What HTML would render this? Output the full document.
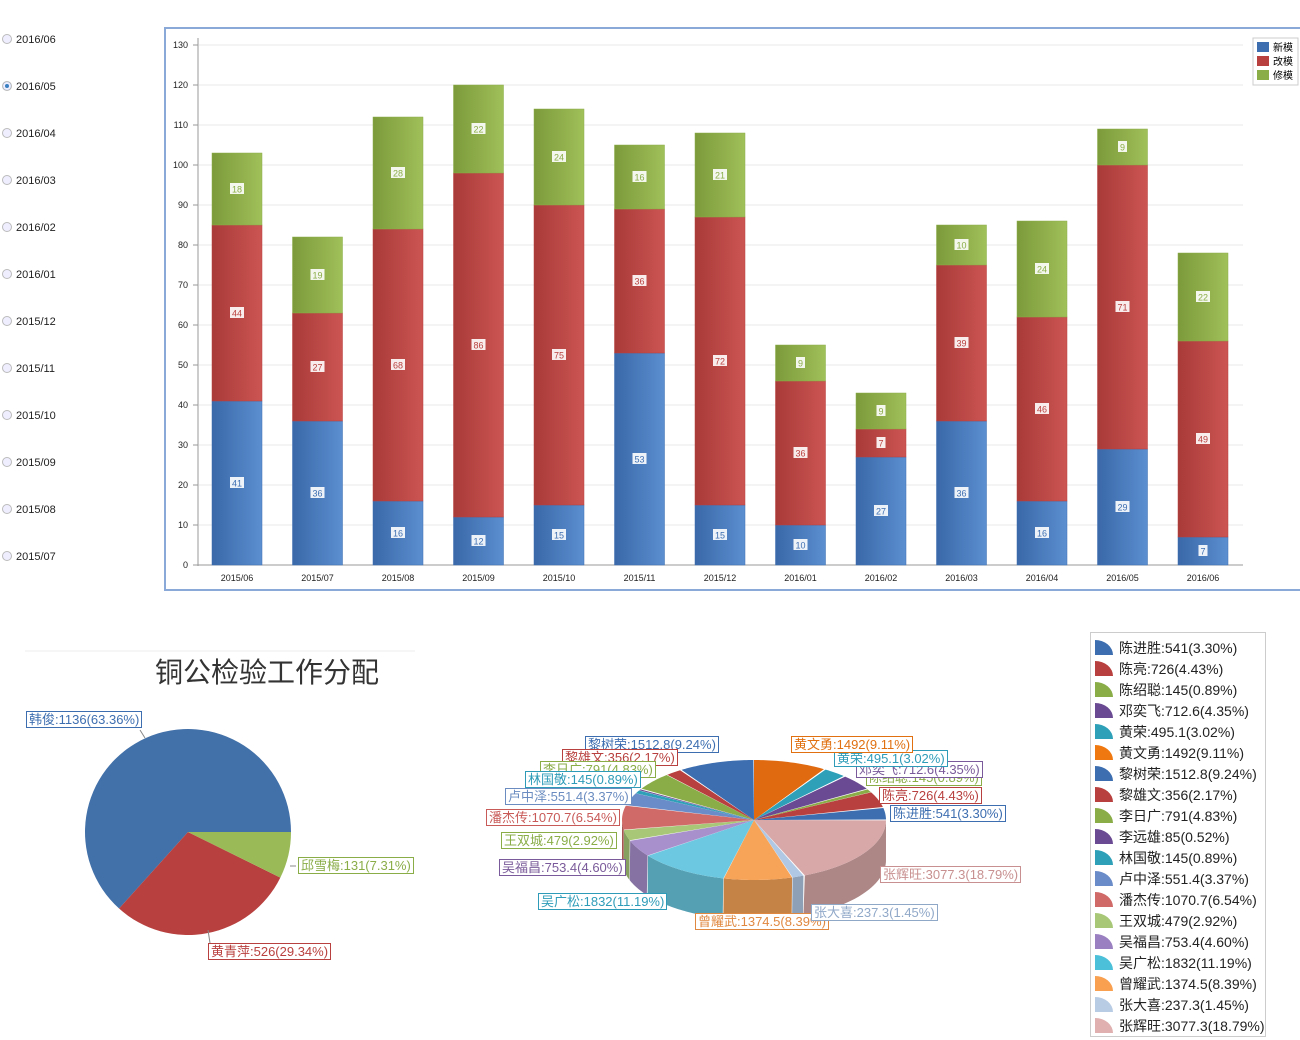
<!DOCTYPE html>
<html><head><meta charset="utf-8"><style>
body{margin:0;width:1300px;height:1040px;background:#fff;position:relative;overflow:hidden;font-family:"Liberation Sans","Noto Sans CJK SC",sans-serif}
.r{position:absolute;left:2px;font-size:11px;color:#222}
.r i{display:inline-block;width:8px;height:8px;border:1px solid #bbb;border-radius:50%;margin-right:4px;vertical-align:-1px;background:#eef}
.lb{position:absolute;font-size:13px;border:1px solid;background:#fff;padding:0 2px;line-height:15px;white-space:nowrap}
.lg{position:absolute;left:1090px;top:632px;width:174px;height:403px;border:1px solid #ccc}
.lg div{position:absolute;left:4px;font-size:14px;color:#222;white-space:nowrap}
.lg b{display:inline-block;width:18px;height:15px;border-top-right-radius:18px 15px;margin-right:6px;vertical-align:-2px}
</style></head><body>
<div class="r" style="top:34px"><i></i>2016/06</div>
<div class="r" style="top:81px"><i style="background:#3a7fc0;box-shadow:inset 0 0 0 2px #eef"></i>2016/05</div>
<div class="r" style="top:128px"><i></i>2016/04</div>
<div class="r" style="top:175px"><i></i>2016/03</div>
<div class="r" style="top:222px"><i></i>2016/02</div>
<div class="r" style="top:269px"><i></i>2016/01</div>
<div class="r" style="top:316px"><i></i>2015/12</div>
<div class="r" style="top:363px"><i></i>2015/11</div>
<div class="r" style="top:410px"><i></i>2015/10</div>
<div class="r" style="top:457px"><i></i>2015/09</div>
<div class="r" style="top:504px"><i></i>2015/08</div>
<div class="r" style="top:551px"><i></i>2015/07</div>
<svg id="s" width="1300" height="1040" style="position:absolute;left:0;top:0" font-family="Liberation Sans, Noto Sans CJK SC, sans-serif">
<defs>
<linearGradient id="gb"><stop offset="0" stop-color="#3a68a8"/><stop offset="1" stop-color="#5b8fd0"/></linearGradient>
<linearGradient id="gr"><stop offset="0" stop-color="#a83a38"/><stop offset="1" stop-color="#cc5552"/></linearGradient>
<linearGradient id="gg"><stop offset="0" stop-color="#7c9a3a"/><stop offset="1" stop-color="#a0c05a"/></linearGradient>
</defs>
<rect x="165" y="28" width="1140" height="562" fill="none" stroke="#8aa8d8" stroke-width="2"/>
<g id="bars"></g>
<line x1="25" y1="651" x2="415" y2="651" stroke="#eee"/>
<text x="267" y="682" font-size="28" text-anchor="middle" fill="#333">铜公检验工作分配</text>
<g id="p1"></g><g id="p2"></g>
<rect x="1253" y="38" width="45" height="47" fill="#fff" stroke="#ccc"/>
<rect x="1257" y="42" width="12" height="10" fill="#3d6eb0"/><text x="1273" y="51" font-size="10">新模</text>
<rect x="1257" y="56" width="12" height="10" fill="#b8403e"/><text x="1273" y="65" font-size="10">改模</text>
<rect x="1257" y="70" width="12" height="10" fill="#8aad48"/><text x="1273" y="79" font-size="10">修模</text>
</svg>
<div class="lb" style="left:26px;top:711px;color:#3d6eb0;border-color:#3d6eb0">韩俊:1136(63.36%)</div>
<div class="lb" style="left:298px;top:857px;color:#8aad48;border-color:#8aad48">邱雪梅:131(7.31%)</div>
<div class="lb" style="left:208px;top:943px;color:#b8403e;border-color:#b8403e">黄青萍:526(29.34%)</div>
<div class="lb" style="left:585px;top:736px;color:#3d6eb0;border-color:#3d6eb0">黎树荣:1512.8(9.24%)</div>
<div class="lb" style="left:562px;top:749px;color:#b8403e;border-color:#b8403e">黎雄文:356(2.17%)</div>
<div class="lb" style="left:540px;top:761px;color:#8aad48;border-color:#8aad48">李日广:791(4.83%)</div>
<div class="lb" style="left:525px;top:771px;color:#2e9cb8;border-color:#2e9cb8">林国敬:145(0.89%)</div>
<div class="lb" style="left:505px;top:788px;color:#6a8cc0;border-color:#6a8cc0">卢中泽:551.4(3.37%)</div>
<div class="lb" style="left:486px;top:809px;color:#c85a58;border-color:#c85a58">潘杰传:1070.7(6.54%)</div>
<div class="lb" style="left:501px;top:832px;color:#8aad48;border-color:#8aad48">王双城:479(2.92%)</div>
<div class="lb" style="left:499px;top:859px;color:#7a5a9a;border-color:#7a5a9a">吴福昌:753.4(4.60%)</div>
<div class="lb" style="left:538px;top:893px;color:#2e9cb8;border-color:#2e9cb8">吴广松:1832(11.19%)</div>
<div class="lb" style="left:695px;top:913px;color:#e08840;border-color:#e08840">曾耀武:1374.5(8.39%)</div>
<div class="lb" style="left:811px;top:904px;color:#90a8c8;border-color:#90a8c8">张大喜:237.3(1.45%)</div>
<div class="lb" style="left:880px;top:866px;color:#c89090;border-color:#c89090">张辉旺:3077.3(18.79%)</div>
<div class="lb" style="left:890px;top:805px;color:#3d6eb0;border-color:#3d6eb0">陈进胜:541(3.30%)</div>
<div class="lb" style="left:879px;top:787px;color:#b8403e;border-color:#b8403e">陈亮:726(4.43%)</div>
<div class="lb" style="left:866px;top:769px;color:#8aad48;border-color:#8aad48">陈绍聪:145(0.89%)</div>
<div class="lb" style="left:856px;top:761px;color:#7a5a9a;border-color:#7a5a9a">邓奕飞:712.6(4.35%)</div>
<div class="lb" style="left:834px;top:750px;color:#2e9cb8;border-color:#2e9cb8">黄荣:495.1(3.02%)</div>
<div class="lb" style="left:791px;top:736px;color:#e07010;border-color:#e07010">黄文勇:1492(9.11%)</div>
<div class="lg">
<div style="top:5px"><b style="background:#3d6eb0"></b>陈进胜:541(3.30%)</div>
<div style="top:26px"><b style="background:#b8403e"></b>陈亮:726(4.43%)</div>
<div style="top:47px"><b style="background:#8aad48"></b>陈绍聪:145(0.89%)</div>
<div style="top:68px"><b style="background:#6a4a92"></b>邓奕飞:712.6(4.35%)</div>
<div style="top:89px"><b style="background:#2ea0b8"></b>黄荣:495.1(3.02%)</div>
<div style="top:110px"><b style="background:#f07810"></b>黄文勇:1492(9.11%)</div>
<div style="top:131px"><b style="background:#3d6eb0"></b>黎树荣:1512.8(9.24%)</div>
<div style="top:152px"><b style="background:#b8403e"></b>黎雄文:356(2.17%)</div>
<div style="top:173px"><b style="background:#8aad48"></b>李日广:791(4.83%)</div>
<div style="top:194px"><b style="background:#6a4a92"></b>李远雄:85(0.52%)</div>
<div style="top:215px"><b style="background:#2ea0b8"></b>林国敬:145(0.89%)</div>
<div style="top:236px"><b style="background:#6a8cc8"></b>卢中泽:551.4(3.37%)</div>
<div style="top:257px"><b style="background:#d06a68"></b>潘杰传:1070.7(6.54%)</div>
<div style="top:278px"><b style="background:#a8c878"></b>王双城:479(2.92%)</div>
<div style="top:299px"><b style="background:#9a80c0"></b>吴福昌:753.4(4.60%)</div>
<div style="top:320px"><b style="background:#4cc0d8"></b>吴广松:1832(11.19%)</div>
<div style="top:341px"><b style="background:#f8a050"></b>曾耀武:1374.5(8.39%)</div>
<div style="top:362px"><b style="background:#b8cce4"></b>张大喜:237.3(1.45%)</div>
<div style="top:383px"><b style="background:#e0b0b0"></b>张辉旺:3077.3(18.79%)</div>
</div>
<script>
var NS="http://www.w3.org/2000/svg";
function el(p,t,a,txt){var e=document.createElementNS(NS,t);for(var k in a)e.setAttribute(k,a[k]);if(txt!=null)e.textContent=txt;p.appendChild(e);return e;}
var g=document.getElementById('bars');
var Y=function(v){return 565-4*v;};
el(g,'line',{x1:198,y1:38,x2:198,y2:566,stroke:'#999'});
el(g,'line',{x1:198,y1:565,x2:1243,y2:565,stroke:'#999'});
for(var v=0;v<=130;v+=10){var y=Y(v);
 if(v>0)el(g,'line',{x1:199,y1:y,x2:1243,y2:y,stroke:'#e8e8e8'});
 el(g,'line',{x1:193,y1:y,x2:198,y2:y,stroke:'#999'});
 el(g,'text',{x:188,y:y+3,'font-size':9,'text-anchor':'end',fill:'#222'},String(v));}
var D=[[41,44,18],[36,27,19],[16,68,28],[12,86,22],[15,75,24],[53,36,16],[15,72,21],[10,36,9],[27,7,9],[36,39,10],[16,46,24],[29,71,9],[7,49,22]];
var L=['2015/06','2015/07','2015/08','2015/09','2015/10','2015/11','2015/12','2016/01','2016/02','2016/03','2016/04','2016/05','2016/06'];
var F=['url(#gb)','url(#gr)','url(#gg)'],C=['#3d6eb0','#b8403e','#8aad48'];
D.forEach(function(d,i){var cx=237+i*80.5,b=0;
 d.forEach(function(v,j){var y0=Y(b),y1=Y(b+v);
  el(g,'rect',{x:cx-25,y:y1,width:50,height:y0-y1,fill:F[j],stroke:C[j],'stroke-width':0.5});
  var ym=(y0+y1)/2,w=String(v).length*5+4;
  el(g,'rect',{x:cx-w/2,y:ym-6,width:w,height:11,fill:'#fff',opacity:0.9});
  el(g,'text',{x:cx,y:ym+3.5,'font-size':9,'text-anchor':'middle',fill:C[j]},String(v));
  b+=v;});
 el(g,'text',{x:cx,y:581,'font-size':9,'text-anchor':'middle',fill:'#222'},L[i]);});
var p1=document.getElementById('p1');
function arc(cx,cy,r,a0,a1){var r0=a0*Math.PI/180,r1=a1*Math.PI/180;
 return 'M'+cx+','+cy+'L'+(cx+r*Math.sin(r0))+','+(cy-r*Math.cos(r0))+'A'+r+','+r+' 0 '+((a1-a0)>180?1:0)+' 1 '+(cx+r*Math.sin(r1))+','+(cy-r*Math.cos(r1))+'Z';}
el(p1,'path',{d:arc(188,832,103,222,450),fill:'#4270a8'});
el(p1,'path',{d:arc(188,832,103,116.3,222),fill:'#b8403e'});
el(p1,'path',{d:arc(188,832,103,90,116.3),fill:'#9aba58'});
el(p1,'path',{d:'M140,730L145,738M290,866L296,866M208,930L210,943',stroke:'#888'});
var p2=document.getElementById('p2');
var S=[[9.11,'#e06a10'],[3.02,'#2ea0b8'],[4.35,'#6a4a92'],[0.89,'#8aad48'],[4.43,'#b8403e'],[3.30,'#3d6eb0'],[18.79,'#d8a8a8'],[1.45,'#b0c8e4'],[8.39,'#f8a458'],[11.19,'#6cc8e0'],[4.60,'#a890cc'],[2.92,'#a8c878'],[6.54,'#d06a68'],[3.37,'#6a8cc8'],[0.89,'#2ea0b8'],[0.52,'#6a4a92'],[4.83,'#8aad48'],[2.17,'#b8403e'],[9.24,'#3d6eb0']];
var cx=754,cy=820,rx=132,ry=60,dp=40;
function P(t,dy){var r=t*Math.PI/180;return [cx+rx*Math.sin(r),cy-ry*Math.cos(r)+(dy||0)];}
function dark(c,f){var n=parseInt(c.slice(1),16);return 'rgb('+Math.round((n>>16)*f)+','+Math.round(((n>>8)&255)*f)+','+Math.round((n&255)*f)+')';}
var a=0,segs=[];S.forEach(function(s){var b=a+s[0]*3.6;segs.push([a,b,s[1]]);a=b;});
segs.forEach(function(s){var a0=Math.max(s[0],90),a1=Math.min(s[1],270);if(a1<=a0)return;
 var d='';for(var t=a0;t<=a1+0.01;t+=1){var q=P(Math.min(t,a1));d+=(d?'L':'M')+q[0]+','+q[1];}
 for(var t=a1;t>=a0-0.01;t-=1){var q=P(Math.max(t,a0),dp);d+='L'+q[0]+','+q[1];}
 el(p2,'path',{d:d+'Z',fill:dark(s[2],0.8)});});
segs.forEach(function(s){var d='M'+cx+','+cy;for(var t=s[0];t<=s[1]+0.01;t+=1){var q=P(Math.min(t,s[1]));d+='L'+q[0]+','+q[1];}
 el(p2,'path',{d:d+'Z',fill:s[2]});});
</script>
</body></html>
